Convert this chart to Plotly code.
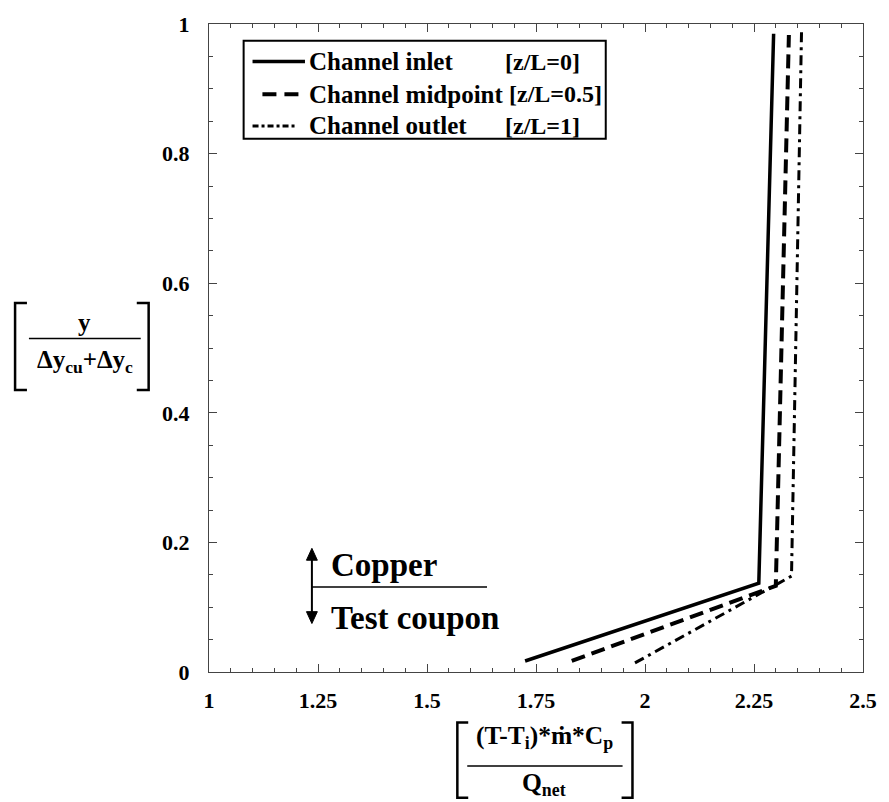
import plotly.graph_objects as go

# ---- data ----
inlet_x = [1.725, 2.261, 2.295]
inlet_y = [0.017, 0.137, 0.985]
mid_x = [1.832, 2.300, 2.330]
mid_y = [0.017, 0.133, 0.983]
outlet_x = [1.977, 2.336, 2.359]
outlet_y = [0.014, 0.148, 0.988]

series_names = ["Channel inlet", "Channel midpoint", "Channel outlet"]
series_tags = ["[z/L=0]", "[z/L=0.5]", "[z/L=1]"]

x_tickvals = [1, 1.25, 1.5, 1.75, 2, 2.25, 2.5]
x_ticktext = ["1", "1.25", "1.5", "1.75", "2", "2.25", "2.5"]
y_tickvals = [0, 0.2, 0.4, 0.6, 0.8, 1]
y_ticktext = ["0", "0.2", "0.4", "0.6", "0.8", "1"]

W, H = 889, 802
L, R, T, B = 209, 19, 17, 130
PW, PH = W - L - R, H - T - B


def px(x):
    return (x - L) / PW


def py(y):
    return (H - B - y) / PH


FONT = "Liberation Serif, Times New Roman, serif"
dashes = ["solid", "14px,7px", "10px,5px,3px,5px"]
widths = [3.5, 4, 3]

fig = go.Figure()
for xs, ys, name, d, w in zip([inlet_x, mid_x, outlet_x], [inlet_y, mid_y, outlet_y],
                              series_names, dashes, widths):
    fig.add_trace(go.Scatter(x=xs, y=ys, mode="lines", name=name, showlegend=False,
                             line=dict(color="black", width=w, dash=d)))

shapes = []
annotations = []

# legend box
shapes.append(dict(type="rect", xref="paper", yref="paper",
                   x0=px(244), x1=px(610), y0=py(133), y1=py(34),
                   line=dict(color="black", width=2), fillcolor="white", layer="above"))
rows_y = [55, 88, 120]
sample_x = [(253, 306), (263, 305), (253, 297)]
tag_x = [506, 510, 506]
leg_dash = ["solid", "14px,8px", "6px,3px,3px,3px"]
for i in range(3):
    shapes.append(dict(type="line", xref="paper", yref="paper",
                       x0=px(sample_x[i][0]), x1=px(sample_x[i][1]),
                       y0=py(rows_y[i]), y1=py(rows_y[i]),
                       line=dict(color="black", width=[3.5, 4, 3][i], dash=leg_dash[i]),
                       layer="above"))
    annotations.append(dict(xref="paper", yref="paper", x=px(308), y=py(rows_y[i]),
                            xanchor="left", yanchor="middle", showarrow=False,
                            text="<b>" + series_names[i] + "</b>",
                            font=dict(family=FONT, size=25, color="black")))
    annotations.append(dict(xref="paper", yref="paper", x=px(tag_x[i]), y=py(rows_y[i]),
                            xanchor="left", yanchor="middle", showarrow=False,
                            text="<b>" + series_tags[i] + "</b>",
                            font=dict(family=FONT, size=24, color="black")))

# Copper / Test coupon marker
ax_ = 313
shapes.append(dict(type="line", xref="paper", yref="paper",
                   x0=px(ax_), x1=px(ax_), y0=py(556), y1=py(614),
                   line=dict(color="black", width=2)))
shapes.append(dict(type="path", xref="paper", yref="paper",
                   path=f"M {px(ax_-5.5)} {py(559)} L {px(ax_+5.5)} {py(559)} L {px(ax_)} {py(547)} Z",
                   fillcolor="black", line=dict(color="black", width=1)))
shapes.append(dict(type="path", xref="paper", yref="paper",
                   path=f"M {px(ax_-5.5)} {py(611)} L {px(ax_+5.5)} {py(611)} L {px(ax_)} {py(623)} Z",
                   fillcolor="black", line=dict(color="black", width=1)))
shapes.append(dict(type="line", xref="paper", yref="paper",
                   x0=px(ax_), x1=px(490), y0=py(586), y1=py(586),
                   line=dict(color="black", width=1.5)))
annotations.append(dict(xref="paper", yref="paper", x=px(330), y=py(564),
                        xanchor="left", yanchor="middle", showarrow=False,
                        text="<b>Copper</b>", font=dict(family=FONT, size=33, color="black")))
annotations.append(dict(xref="paper", yref="paper", x=px(330), y=py(617),
                        xanchor="left", yanchor="middle", showarrow=False,
                        text="<b>Test coupon</b>", font=dict(family=FONT, size=33, color="black")))

# y-axis title: bracketed fraction
bw = 2.5
shapes.append(dict(type="path", xref="paper", yref="paper",
                   path=f"M {px(25)} {py(299)} L {px(13)} {py(299)} L {px(13)} {py(387)} L {px(25)} {py(387)}",
                   line=dict(color="black", width=bw)))
shapes.append(dict(type="path", xref="paper", yref="paper",
                   path=f"M {px(136)} {py(299)} L {px(148)} {py(299)} L {px(148)} {py(387)} L {px(136)} {py(387)}",
                   line=dict(color="black", width=bw)))
shapes.append(dict(type="line", xref="paper", yref="paper",
                   x0=px(27), x1=px(140), y0=py(335), y1=py(335),
                   line=dict(color="black", width=1.5)))
annotations.append(dict(xref="paper", yref="paper", x=px(83), y=py(319),
                        xanchor="center", yanchor="middle", showarrow=False,
                        text="<b>y</b>", font=dict(family=FONT, size=25, color="black")))
annotations.append(dict(xref="paper", yref="paper", x=px(84), y=py(358),
                        xanchor="center", yanchor="middle", showarrow=False,
                        text="<b>Δy<sub>cu</sub>+Δy<sub>c</sub></b>",
                        font=dict(family=FONT, size=25, color="black")))

# x-axis title: bracketed fraction
shapes.append(dict(type="path", xref="paper", yref="paper",
                   path=f"M {px(471)} {py(723)} L {px(460)} {py(723)} L {px(460)} {py(799)} L {px(471)} {py(799)}",
                   line=dict(color="black", width=bw)))
shapes.append(dict(type="path", xref="paper", yref="paper",
                   path=f"M {px(626)} {py(723)} L {px(637)} {py(723)} L {px(637)} {py(799)} L {px(626)} {py(799)}",
                   line=dict(color="black", width=bw)))
shapes.append(dict(type="line", xref="paper", yref="paper",
                   x0=px(470), x1=px(627), y0=py(767), y1=py(767),
                   line=dict(color="black", width=1.5)))
annotations.append(dict(xref="paper", yref="paper", x=px(548), y=py(738),
                        xanchor="center", yanchor="middle", showarrow=False,
                        text="<b>(T-T<sub>i</sub>)*ṁ*C<sub>p</sub></b>",
                        font=dict(family=FONT, size=25.5, color="black")))
annotations.append(dict(xref="paper", yref="paper", x=px(548), y=py(785),
                        xanchor="center", yanchor="middle", showarrow=False,
                        text="<b>Q<sub>net</sub></b>",
                        font=dict(family=FONT, size=25.5, color="black")))

axis_common = dict(
    showgrid=False, zeroline=False, showline=True, linecolor="#444", linewidth=1.2,
    mirror="allticks", ticks="inside", ticklen=8, tickwidth=1, tickcolor="#444",
    tickfont=dict(family=FONT, size=22, color="black", weight="bold"),
)

fig.update_layout(
    width=W, height=H,
    margin=dict(l=L, r=R, t=T, b=B, pad=0),
    paper_bgcolor="white", plot_bgcolor="white",
    showlegend=False,
    xaxis=dict(range=[1, 2.5], tickvals=x_tickvals, ticktext=x_ticktext,
               minor=dict(ticks="inside", ticklen=4, tickcolor="#444", dtick=0.05, tick0=1),
               ticklabelstandoff=8, **axis_common),
    yaxis=dict(range=[0, 1], tickvals=y_tickvals, ticktext=y_ticktext,
               minor=dict(ticks="inside", ticklen=4, tickcolor="#444", dtick=0.05, tick0=0),
               ticklabelstandoff=14, **axis_common),
    shapes=shapes,
    annotations=annotations,
)

fig.write_html("out.html")
